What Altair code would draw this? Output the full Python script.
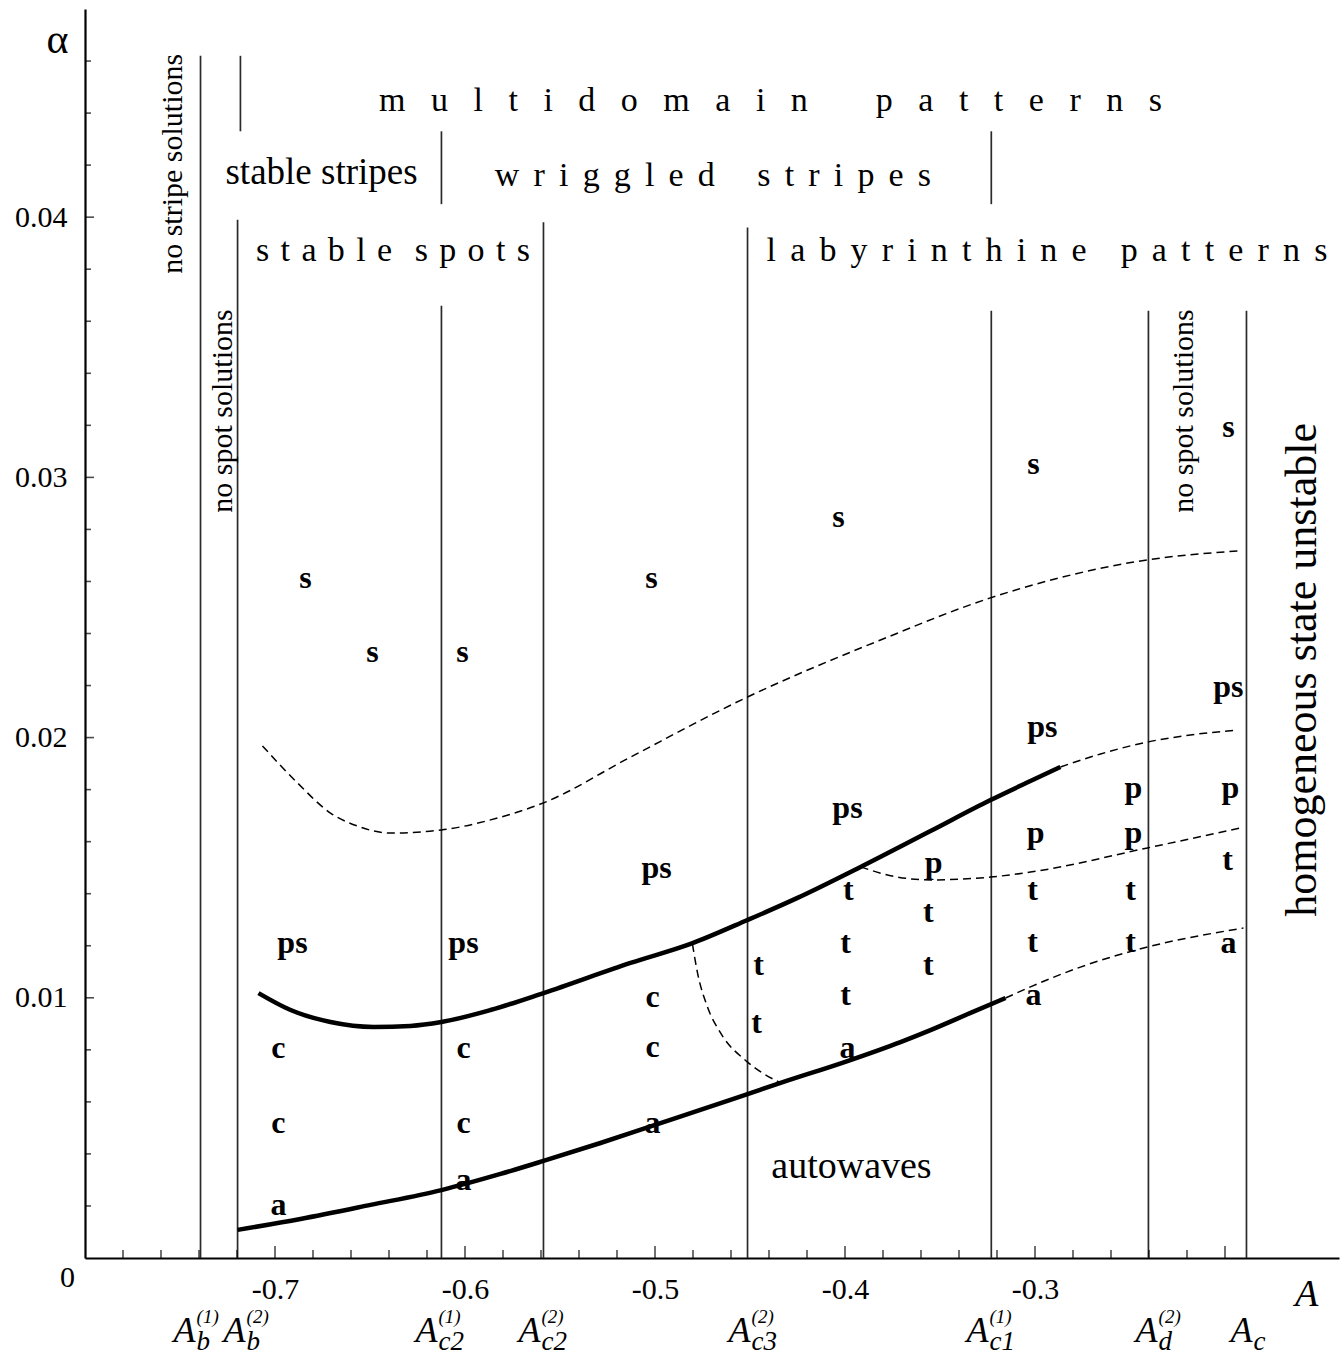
import altair as alt
import pandas as pd

# ---------------- axes / scales ----------------
X_DOMAIN = [-0.8, -0.14]
Y_DOMAIN = [0.0, 0.048]

x_label_values = [-0.7, -0.6, -0.5, -0.4, -0.3]
y_label_values = [0.01, 0.02, 0.03, 0.04]
x_major_ticks = [-0.7, -0.6, -0.5, -0.4, -0.3, -0.2]
x_minor_ticks = [-0.78, -0.76, -0.74, -0.72, -0.68, -0.66, -0.64, -0.62, -0.58, -0.56,
                 -0.54, -0.52, -0.48, -0.46, -0.44, -0.42, -0.38, -0.36, -0.34, -0.32,
                 -0.28, -0.26, -0.24, -0.22]
y_major_ticks = [0.01, 0.02, 0.03, 0.04]
y_minor_ticks = [0.002, 0.004, 0.006, 0.008, 0.012, 0.014, 0.016, 0.018, 0.022, 0.024,
                 0.026, 0.028, 0.032, 0.034, 0.036, 0.038, 0.042, 0.044, 0.046]

# ---------------- phase boundaries (vertical lines) ----------------
boundary_A = [-0.7392, -0.7197, -0.6124, -0.5587, -0.4513, -0.3230, -0.2403, -0.1887]
boundary_top = [0.0462, 0.0399, 0.0366, 0.0398, 0.0396, 0.0364, 0.0364, 0.0364]
boundary_sub = ["b", "b", "c2", "c2", "c3", "c1", "d", "c"]
boundary_sup = ["(1)", "(2)", "(1)", "(2)", "(2)", "(1)", "(2)", ""]
# where each boundary symbol sits (right edge of its "A")
symbol_A = [-0.7418, -0.7155, -0.6145, -0.5603, -0.4497, -0.3245, -0.2355, -0.1855]

segment_A = [-0.7182, -0.6124, -0.3230]
segment_lo = [0.0433, 0.0405, 0.0405]
segment_hi = [0.0462, 0.0433, 0.0433]

# ---------------- solid (thick) curves ----------------
upper_A = [-0.7087, -0.6918, -0.6708, -0.6482, -0.6287, -0.6124, -0.5866, -0.5587, -0.5129,
           -0.4813, -0.4513, -0.4250, -0.3918, -0.3550, -0.3234, -0.3024, -0.2866]
upper_alpha = [0.01018, 0.00953, 0.00907, 0.00888, 0.00892, 0.00907, 0.00953, 0.01018, 0.01134,
               0.01207, 0.01299, 0.01384, 0.01503, 0.01641, 0.01760, 0.01833, 0.01887]

lower_A = [-0.7197, -0.6866, -0.6497, -0.6124, -0.5813, -0.5587, -0.5287, -0.5003, -0.4761,
           -0.4513, -0.4339, -0.3987, -0.3708, -0.3550, -0.3339, -0.3155]
lower_alpha = [0.00108, 0.00150, 0.00204, 0.00261, 0.00323, 0.00373, 0.00442, 0.00511, 0.00569,
               0.00630, 0.00673, 0.00757, 0.00830, 0.00876, 0.00942, 0.00999]

# ---------------- dashed curves ----------------
d1_A = [-0.7066, -0.6882, -0.6708, -0.6566, -0.6392, -0.6124, -0.5829, -0.5587, -0.5129,
        -0.4513, -0.3813, -0.3234, -0.2408, -0.1934]
d1_alpha = [0.01968, 0.01826, 0.01710, 0.01660, 0.01633, 0.01645, 0.01691, 0.01749, 0.01925,
            0.02156, 0.02375, 0.02537, 0.02683, 0.02717]

d2_A = [-0.2866, -0.2655, -0.2408, -0.2182, -0.1934]
d2_alpha = [0.01887, 0.01937, 0.01983, 0.02010, 0.02029]

d3_A = [-0.3918, -0.3724, -0.3550, -0.3234, -0.3024, -0.2408, -0.1918]
d3_alpha = [0.01503, 0.01464, 0.01453, 0.01464, 0.01483, 0.01576, 0.01653]

d4_A = [-0.3155, -0.3024, -0.2761, -0.2408, -0.1903]
d4_alpha = [0.00999, 0.01042, 0.01118, 0.01195, 0.01268]

d5_A = [-0.4803, -0.4776, -0.4724, -0.4655, -0.4513, -0.4339]
d5_alpha = [0.01207, 0.01095, 0.00965, 0.00865, 0.00753, 0.00673]

# ---------------- bold state labels ----------------
state_text = ["s", "s", "s", "s", "s", "s", "s",
              "ps", "ps", "ps", "ps", "ps", "ps",
              "c", "c", "a", "c", "c", "a", "c", "c", "a",
              "t", "t", "t", "t", "t", "a",
              "p", "t", "t", "p", "t", "t", "a",
              "p", "p", "t", "t", "p", "t", "a"]
state_A = [-0.6839, -0.6487, -0.6013, -0.5018, -0.4034, -0.3008, -0.1982,
           -0.6908, -0.6008, -0.4992, -0.3987, -0.2961, -0.1982,
           -0.6982, -0.6982, -0.6982, -0.6008, -0.6008, -0.6008, -0.5013, -0.5013, -0.5013,
           -0.4455, -0.4466, -0.3982, -0.3997, -0.3997, -0.3987,
           -0.3534, -0.3561, -0.3561, -0.2997, -0.3013, -0.3013, -0.3008,
           -0.2482, -0.2482, -0.2497, -0.2497, -0.1971, -0.1987, -0.1982]
state_alpha = [0.02613, 0.02329, 0.02329, 0.02613, 0.02848, 0.03052, 0.03194,
               0.01211, 0.01211, 0.01499, 0.01729, 0.02041, 0.02194,
               0.00807, 0.00519, 0.00204, 0.00807, 0.00519, 0.00300, 0.01003, 0.00811, 0.00519,
               0.01126, 0.00903, 0.01414, 0.01211, 0.01011, 0.00807,
               0.01518, 0.01330, 0.01126, 0.01633, 0.01414, 0.01214, 0.01011,
               0.01806, 0.01633, 0.01414, 0.01214, 0.01806, 0.01530, 0.01211]

# ---------------- region labels ----------------
spaced_text = ["multidomain patterns", "wriggled stripes", "stable spots", "labyrinthine patterns"]
spaced_A = [-0.4392, -0.4695, -0.6379, -0.2937]
spaced_alpha = [0.04445, 0.04160, 0.03870, 0.03870]
spaced_size = [34, 34, 34, 34]
# letter / word separators (style only)
spaced_sep = [("\u2002\u2005", "\u2003\u2003"), ("\u2005\u2006", "\u2003\u2005"),
              ("\u2004", "\u2004\u2004"), ("\u2005\u2006", "\u2003")]

plain_text = ["stable stripes", "autowaves"]
plain_A = [-0.6755, -0.3966]
plain_alpha = [0.0417, 0.0035]
plain_size = [37, 38]

rot_text = ["no stripe solutions", "no spot solutions", "no spot solutions"]
rot_A = [-0.7539, -0.7276, -0.2218]
rot_alpha = [0.04205, 0.03255, 0.03255]

big_rot_text = ["homogeneous state unstable"]
big_rot_A = [-0.1587]
big_rot_alpha = [0.0226]

origin_text = ["0"]
origin_A = [-0.8092]
origin_alpha = [-0.00077]

# rows for the bottom symbols (data units, below the axis)
row_A_alpha = -0.00323
row_sub_alpha = -0.00354
row_sup_alpha = -0.00248

FONT = "Liberation Serif"

# ---------------- frames ----------------
def spaced(s, sep, wsep):
    return wsep.join(sep.join(list(w)) for w in s.split(" "))

rules_df = pd.DataFrame({
    "A": boundary_A + segment_A,
    "alpha": [0.0] * len(boundary_A) + segment_lo,
    "hi": boundary_top + segment_hi,
})

def curve_frame(pairs):
    rows = []
    for name, xa, ya in pairs:
        for a, b in zip(xa, ya):
            rows.append({"curve": name, "A": a, "alpha": b})
    return pd.DataFrame(rows)

thick_df = curve_frame([("upper", upper_A, upper_alpha), ("lower", lower_A, lower_alpha)])
dash_df = curve_frame([("d1", d1_A, d1_alpha), ("d2", d2_A, d2_alpha), ("d3", d3_A, d3_alpha),
                       ("d4", d4_A, d4_alpha), ("d5", d5_A, d5_alpha)])

xmaj_df = pd.DataFrame({"A": x_major_ticks, "alpha": [0.0] * len(x_major_ticks)})
xmin_df = pd.DataFrame({"A": x_minor_ticks, "alpha": [0.0] * len(x_minor_ticks)})
ymaj_df = pd.DataFrame({"A": [X_DOMAIN[0]] * len(y_major_ticks), "alpha": y_major_ticks})
ymin_df = pd.DataFrame({"A": [X_DOMAIN[0]] * len(y_minor_ticks), "alpha": y_minor_ticks})

state_df = pd.DataFrame({"A": state_A, "alpha": state_alpha, "label": state_text})
spaced_df = pd.DataFrame({"A": spaced_A, "alpha": spaced_alpha, "size": spaced_size,
                          "label": [spaced(t, s[0], s[1]) for t, s in zip(spaced_text, spaced_sep)]})
plain_df = pd.DataFrame({"A": plain_A, "alpha": plain_alpha, "size": plain_size, "label": plain_text})
rot_df = pd.DataFrame({"A": rot_A, "alpha": rot_alpha, "label": rot_text})
big_rot_df = pd.DataFrame({"A": big_rot_A, "alpha": big_rot_alpha, "label": big_rot_text})
origin_df = pd.DataFrame({"A": origin_A, "alpha": origin_alpha, "label": origin_text})
symA_df = pd.DataFrame({"A": symbol_A, "alpha": [row_A_alpha] * len(symbol_A),
                        "label": ["A"] * len(symbol_A)})
sub_df = pd.DataFrame({"A": symbol_A, "alpha": [row_sub_alpha] * len(symbol_A),
                       "label": boundary_sub})
sup_df = pd.DataFrame({"A": symbol_A, "alpha": [row_sup_alpha] * len(symbol_A),
                       "label": boundary_sup})

# ---------------- encodings ----------------
xs = alt.Scale(domain=X_DOMAIN, nice=False, zero=False)
ys = alt.Scale(domain=Y_DOMAIN, nice=False, zero=False)

x_axis = alt.Axis(values=x_label_values, labelExpr="'-' + format(abs(datum.value), '.1f')",
                  ticks=False, tickSize=0, grid=False, domainColor="black", domainWidth=2.2,
                  labelFont=FONT, labelFontSize=30, labelColor="black", labelPadding=16,
                  title="A", titleFont=FONT, titleFontStyle="italic", titleFontWeight="normal",
                  titleFontSize=38, titleColor="black", titleX=1221, titleY=36,
                  titleAlign="center", titleBaseline="middle")
y_axis = alt.Axis(values=y_label_values, format=".2f", ticks=False, tickSize=0, grid=False,
                  domainColor="black", domainWidth=2.2, labelFont=FONT, labelFontSize=30,
                  labelColor="black", labelPadding=18, title="α", titleFont=FONT,
                  titleFontWeight="normal", titleFontSize=42, titleColor="black", titleAngle=0,
                  titleX=-28, titleY=30, titleAlign="center", titleBaseline="middle")

X = alt.X("A:Q", scale=xs, axis=x_axis)
Y = alt.Y("alpha:Q", scale=ys, axis=y_axis)

rules = alt.Chart(rules_df).mark_rule(color="#2a2a2a", strokeWidth=1.7).encode(
    x=X, y=Y, y2="hi:Q")

thick = alt.Chart(thick_df).mark_line(color="black", strokeWidth=4.5, interpolate="monotone",
                                      strokeCap="butt").encode(x=X, y=Y, detail="curve:N")
dashed = alt.Chart(dash_df).mark_line(color="black", strokeWidth=1.5, strokeDash=[8, 5],
                                      interpolate="monotone").encode(x=X, y=Y, detail="curve:N")

xmaj = alt.Chart(xmaj_df).mark_tick(orient="vertical", size=12, thickness=1.6, yOffset=-6,
                                    color="black").encode(x=X, y=Y)
xmin = alt.Chart(xmin_df).mark_tick(orient="vertical", size=8, thickness=1.6, yOffset=-4,
                                    color="black").encode(x=X, y=Y)
ymaj = alt.Chart(ymaj_df).mark_tick(orient="horizontal", size=9, thickness=1.6, xOffset=4.5,
                                    color="black").encode(x=X, y=Y)
ymin = alt.Chart(ymin_df).mark_tick(orient="horizontal", size=6, thickness=1.6, xOffset=3,
                                    color="black").encode(x=X, y=Y)

states = alt.Chart(state_df).mark_text(font=FONT, fontSize=32, fontWeight="bold", color="black",
                                       align="center", baseline="middle").encode(x=X, y=Y, text="label:N")
spaced_lbl = alt.Chart(spaced_df).mark_text(font=FONT, color="black", align="center",
                                            baseline="middle").encode(
    x=X, y=Y, text="label:N", size=alt.Size("size:Q", scale=None, legend=None))
plain_lbl = alt.Chart(plain_df).mark_text(font=FONT, color="black", align="center",
                                          baseline="middle").encode(
    x=X, y=Y, text="label:N", size=alt.Size("size:Q", scale=None, legend=None))
rot_lbl = alt.Chart(rot_df).mark_text(font=FONT, fontSize=30, color="black", align="center",
                                      baseline="middle", angle=270).encode(x=X, y=Y, text="label:N")
big_rot_lbl = alt.Chart(big_rot_df).mark_text(font=FONT, fontSize=44, color="black", align="center",
                                              baseline="middle", angle=270).encode(x=X, y=Y, text="label:N")
origin_lbl = alt.Chart(origin_df).mark_text(font=FONT, fontSize=30, color="black", align="center",
                                            baseline="middle").encode(x=X, y=Y, text="label:N")
symA = alt.Chart(symA_df).mark_text(font=FONT, fontSize=36, fontStyle="italic", color="black",
                                    align="right", baseline="alphabetic").encode(x=X, y=Y, text="label:N")
symSub = alt.Chart(sub_df).mark_text(font=FONT, fontSize=27, fontStyle="italic", color="black",
                                     align="left", baseline="alphabetic", dx=1).encode(x=X, y=Y, text="label:N")
symSup = alt.Chart(sup_df).mark_text(font=FONT, fontSize=19, fontStyle="italic", color="black",
                                     align="left", baseline="alphabetic", dx=1).encode(x=X, y=Y, text="label:N")

chart = alt.layer(
    rules, dashed, thick, xmaj, xmin, ymaj, ymin,
    states, spaced_lbl, plain_lbl, rot_lbl, big_rot_lbl, origin_lbl, symA, symSub, symSup
).properties(
    width=1254, height=1249,
    autosize=alt.AutoSizeParams(type="none"),
    padding={"left": 85, "top": 9, "right": 4, "bottom": 97},
    background="white",
).configure_view(stroke=None)

chart.save("out.html", embed_options={"renderer": "svg", "actions": False})
